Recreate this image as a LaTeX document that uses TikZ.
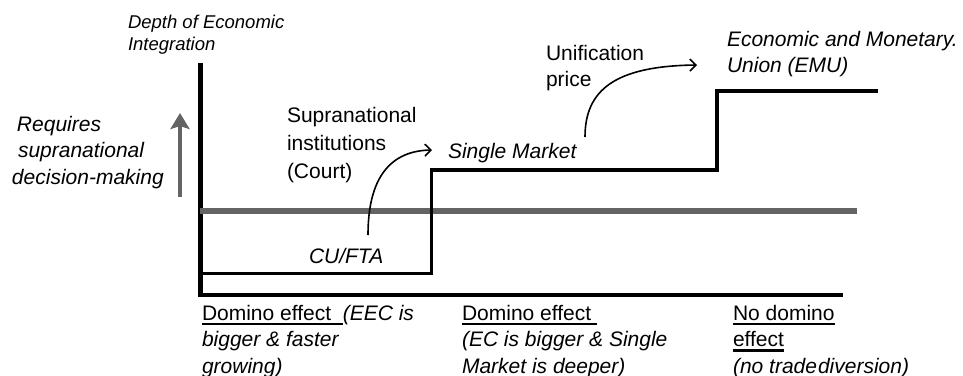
\documentclass[tikz,border=0pt]{standalone}
\usepackage{fontspec}
\setmainfont{Liberation Sans}
\usetikzlibrary{arrows.meta}
\definecolor{axgray}{RGB}{100,100,100}
\newcommand\ulx[1]{\setbox0=\hbox{#1}\rlap{\rule[-5.2pt]{\wd0}{2.6pt}}\box0}
\newcommand\mlines[1]{\begin{tabular}[t]{@{}l@{}}#1\end{tabular}}
\tikzset{
  txt/.style={inner sep=0pt, outer sep=0pt, anchor=base west, font=\fontsize{21}{26.5}\selectfont},
  itxt/.style={txt, font=\fontsize{21}{26.5}\selectfont\itshape},
  smalltxt/.style={txt, font=\fontsize{18.5}{22}\selectfont\itshape},
  axisline/.style={line width=4.5pt, line join=miter},
  stepline/.style={line width=3.2pt, line join=miter},
  barline/.style={line width=6pt, axgray},
  curvearrow/.style={line width=1.6pt, -{Straight Barb[length=6pt,width=12pt,line width=1.6pt]}},
  grayarrow/.style={line width=4.5pt, axgray, -{Stealth[length=16pt,width=19pt,inset=3pt]}}
}
\begin{document}
\begin{tikzpicture}[x=1pt,y=-1pt]
\useasboundingbox (0,0) rectangle (963,375);
% axes
\coordinate (ytop) at (200.5,63);
\coordinate (origin) at (200.5,295);
\coordinate (xend) at (843,295);
\draw[axisline] (ytop) -- (origin) -- (xend);
% gray threshold line
\coordinate (barL) at (200,211);
\coordinate (barR) at (857,211);
\draw[barline] (barL) -- (barR);
% step line
\coordinate (s0) at (202,273.5);
\coordinate (s1) at (431.5,273.5);
\coordinate (s2) at (431.5,170);
\coordinate (s3) at (717,170);
\coordinate (s4) at (717,91);
\coordinate (s5) at (878,91);
\draw[stepline] (s0) -- (s1) -- (s2) -- (s3) -- (s4) -- (s5);
% gray arrow
\coordinate (gaS) at (180,197);
\coordinate (gaE) at (180,113);
\draw[grayarrow] (gaS) -- (gaE);
% texts
\node[smalltxt] (depth) at (128,28) {\mlines{Depth of Economic\\Integration}};
\node[itxt] (requires) at (12,131) {\mlines{\hspace*{5pt}Requires\\\hspace*{6pt}supranational\\decision-making}};
\node[txt, font=\fontsize{21}{28}\selectfont] (supra) at (287,122) {\mlines{Supranational\\institutions\\(Court)}};
\node[itxt] (cufta) at (309,263) {CU/FTA};
\node[itxt] (single) at (448,158) {Single Market};
\node[txt, font=\fontsize{21}{26}\selectfont] (unif) at (546,60) {\mlines{Unification\\price}};
\node[itxt, font=\fontsize{21}{26}\selectfont\itshape] (emu) at (727,46) {\mlines{Economic and Monetary.\\Union (EMU)}};
\node[txt] (dom1) at (202,320) {\mlines{\ulx{Domino effect\ \ }\textit{(EEC is}\\\textit{bigger \& faster}\\\textit{growing)}}};
\node[txt] (dom2) at (462,320) {\mlines{\ulx{Domino effect\ }\\\textit{(EC is bigger \& Single}\\\textit{Market is deeper)}}};
\node[txt] (dom3) at (733,320) {\mlines{\ulx{No domino}\\\ulx{effect}\\\textit{(no trade\kern1pt diversion)}}};
% curved arrows
\coordinate (a1s) at (368,235);
\coordinate (a1e) at (432,150);
\draw[curvearrow] (a1s) .. controls (368,185) and (385,151) .. (a1e);
\coordinate (a2s) at (585,137);
\coordinate (a2e) at (697,65);
\draw[curvearrow] (a2s) .. controls (585,90) and (615,66) .. (a2e);
\end{tikzpicture}
\end{document}
